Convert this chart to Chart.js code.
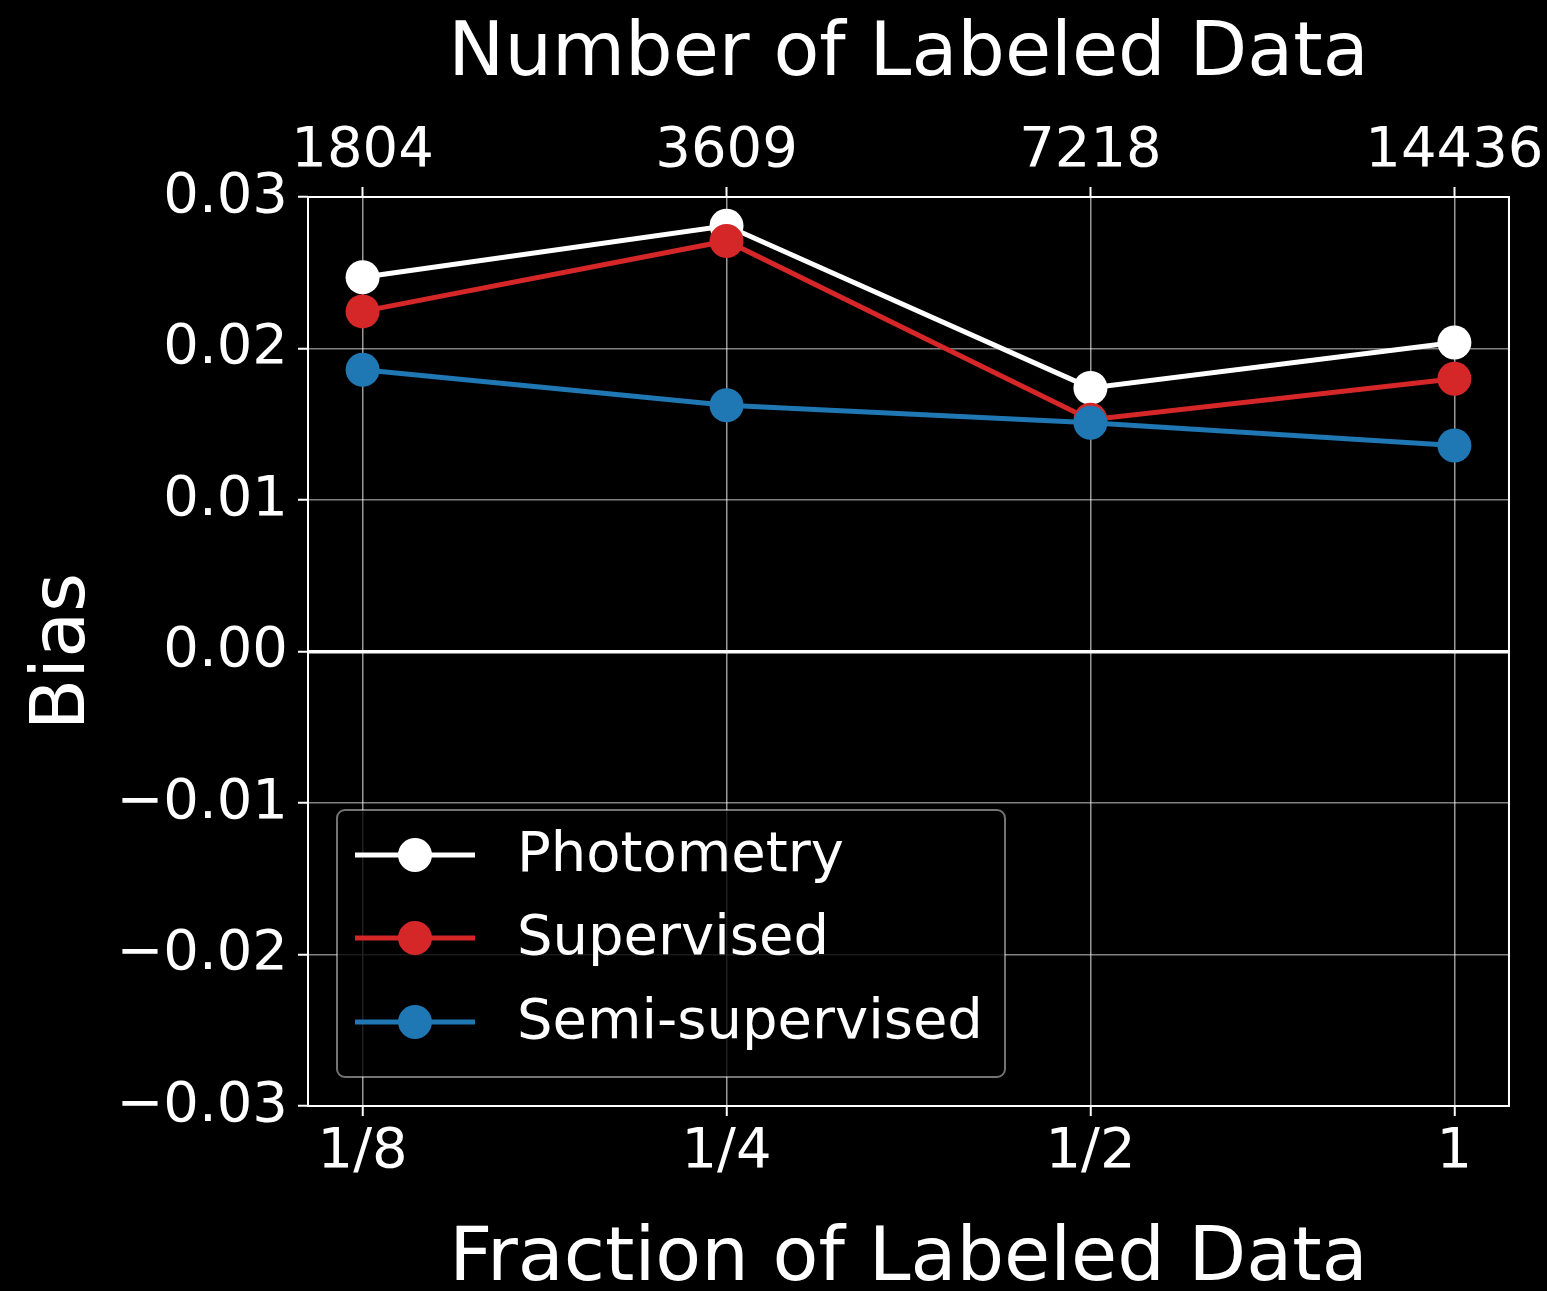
<!DOCTYPE html>
<html>
<head>
<meta charset="utf-8">
<script src="https://cdn.jsdelivr.net/npm/chart.js@4"></script>
<style>
  body { margin: 0; background: #000; }
  #wrap { width: 1547px; height: 1291px; }
</style>
</head>
<body>
<div id="wrap"><canvas id="biasChart" width="1547" height="1291"></canvas></div>
<script>
// data
var fractions = ["1/8", "1/4", "1/2", "1"];
var counts = ["1804", "3609", "7218", "14436"];
var photometry = [0.0247, 0.0281, 0.0174, 0.0204];
var supervised = [0.02245, 0.0271, 0.0153, 0.0180];
var semiSupervised = [0.0186, 0.01625, 0.0151, 0.0136];
var yTicks = [-0.03, -0.02, -0.01, 0, 0.01, 0.02, 0.03];

var FONT = "'DejaVu Sans', sans-serif";

function pts(values) {
  return values.map(function (v, i) { return { x: i, y: v }; });
}

function fmtY(v) {
  if (Math.abs(v) < 1e-9) return "0.00";
  return v.toFixed(2).replace("-", "\u2212");
}

// axes frame on all four sides
var framePlugin = {
  id: "frame",
  afterDatasetsDraw: function (chart) {
    var a = chart.chartArea, ctx = chart.ctx;
    ctx.save();
    ctx.strokeStyle = "#ffffff";
    ctx.lineWidth = 2;
    ctx.strokeRect(a.left, a.top, a.right - a.left, a.bottom - a.top);
    ctx.restore();
  }
};

// legend box in the lower left of the plot
var legendPlugin = {
  id: "innerLegend",
  afterDatasetsDraw: function (chart) {
    var ctx = chart.ctx;
    var x = 337, y = 810, w = 668, h = 267;
    ctx.save();
    ctx.beginPath();
    ctx.roundRect(x, y, w, h, 8);
    ctx.fillStyle = "rgba(0,0,0,0.8)";
    ctx.fill();
    ctx.strokeStyle = "rgba(255,255,255,0.45)";
    ctx.lineWidth = 2;
    ctx.stroke();
    var rows = [855, 938, 1022];
    chart.data.datasets.forEach(function (ds, i) {
      var ry = rows[i];
      ctx.strokeStyle = ds.borderColor;
      ctx.lineWidth = 5;
      ctx.beginPath();
      ctx.moveTo(355, ry);
      ctx.lineTo(475, ry);
      ctx.stroke();
      ctx.fillStyle = ds.borderColor;
      ctx.beginPath();
      ctx.arc(415, ry, 17, 0, Math.PI * 2);
      ctx.fill();
      ctx.fillStyle = "#ffffff";
      ctx.font = "56px " + FONT;
      ctx.textBaseline = "middle";
      ctx.textAlign = "left";
      ctx.fillText(ds.label, 517, ry + 1);
    });
    ctx.restore();
  }
};

function catTicks(scale) {
  scale.ticks = fractions.map(function (f, i) { return { value: i }; });
}

var ctx = document.getElementById("biasChart").getContext("2d");
var biasChart = new Chart(ctx, {
  type: "line",
  data: {
    datasets: [{
      label: "Photometry",
      data: pts(photometry),
      borderColor: "#ffffff",
      backgroundColor: "#ffffff",
      order: 3
    }, {
      label: "Supervised",
      data: pts(supervised),
      borderColor: "#d62728",
      backgroundColor: "#d62728",
      order: 2
    }, {
      label: "Semi-supervised",
      data: pts(semiSupervised),
      borderColor: "#1f77b4",
      backgroundColor: "#1f77b4",
      order: 1
    }]
  },
  options: {
    responsive: false,
    animation: false,
    layout: { padding: { right: 34 } },
    elements: {
      line: { borderWidth: 5, tension: 0 },
      point: { radius: 17, borderWidth: 0, hoverRadius: 17 }
    },
    plugins: {
      legend: { display: false },
      tooltip: { enabled: false }
    },
    scales: {
      x: {
        type: "linear",
        position: "bottom",
        min: -0.15,
        max: 3.15,
        afterBuildTicks: catTicks,
        afterFit: function (s) { s.height = 185; },
        grid: {
          color: "rgba(255,255,255,0.6)",
          lineWidth: 1.5,
          tickColor: "#ffffff",
          tickLength: 10,
          tickWidth: 2
        },
        border: { display: false },
        ticks: {
          color: "#ffffff",
          font: { family: FONT, size: 56 },
          padding: 3,
          maxRotation: 0,
          autoSkip: false,
          callback: function (v) { return fractions[v]; }
        },
        title: {
          display: true,
          text: "Fraction of Labeled Data",
          color: "#ffffff",
          font: { family: FONT, size: 75, lineHeight: 0.82 },
          padding: { top: 0, bottom: 0 }
        }
      },
      x2: {
        type: "linear",
        position: "top",
        min: -0.15,
        max: 3.15,
        afterBuildTicks: catTicks,
        afterFit: function (s) { s.height = 197; },
        grid: {
          drawOnChartArea: false,
          tickColor: "#ffffff",
          tickLength: 10,
          tickWidth: 2
        },
        border: { display: false },
        ticks: {
          color: "#ffffff",
          font: { family: FONT, size: 56 },
          padding: 2,
          maxRotation: 0,
          autoSkip: false,
          callback: function (v) { return counts[v]; }
        },
        title: {
          display: true,
          text: "Number of Labeled Data",
          color: "#ffffff",
          font: { family: FONT, size: 75, lineHeight: 1 },
          padding: { top: 18, bottom: 0 }
        }
      },
      y: {
        min: -0.03,
        max: 0.03,
        afterBuildTicks: function (s) {
          s.ticks = yTicks.map(function (v) { return { value: v }; });
        },
        afterFit: function (s) { s.width = 308; },
        grid: {
          color: function (c) {
            return c.tick && Math.abs(c.tick.value) < 1e-9 ? "#ffffff" : "rgba(255,255,255,0.5)";
          },
          lineWidth: function (c) {
            return c.tick && Math.abs(c.tick.value) < 1e-9 ? 3.5 : 1.5;
          },
          tickColor: "#ffffff",
          tickLength: 10,
          tickWidth: 2
        },
        border: { display: false },
        ticks: {
          color: "#ffffff",
          font: { family: FONT, size: 56 },
          padding: 10,
          callback: function (v) { return fmtY(v); }
        },
        title: {
          display: true,
          text: "Bias",
          color: "#ffffff",
          font: { family: FONT, size: 75, lineHeight: 1 },
          padding: { top: 27, bottom: 0 }
        }
      }
    }
  },
  plugins: [framePlugin, legendPlugin]
});
</script>
</body>
</html>
